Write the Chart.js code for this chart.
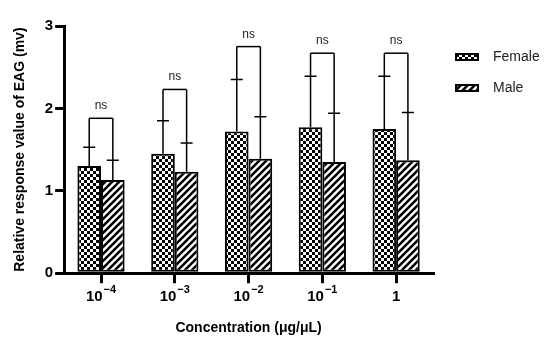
<html>
<head>
<meta charset="utf-8">
<script src="https://cdn.jsdelivr.net/npm/chart.js"></script>
<style>body{margin:0;background:#fff}</style>
</head>
<body>
<canvas id="myChart" width="550" height="348"></canvas>
<script>
// Data
const categories = ['10^-4', '10^-3', '10^-2', '10^-1', '1'];
const tickBase = ['10', '10', '10', '10', '1'];
const tickExp = ['\u22124', '\u22123', '\u22122', '\u22121', ''];
const female = [1.30, 1.45, 1.72, 1.77, 1.75];
const femaleErr = [0.23, 0.40, 0.63, 0.62, 0.64];
const male = [1.13, 1.23, 1.39, 1.35, 1.37];
const maleErr = [0.24, 0.35, 0.51, 0.59, 0.58];
const bracketAt = [1.88, 2.23, 2.75, 2.67, 2.67];
const sigLabels = ['ns', 'ns', 'ns', 'ns', 'ns'];
const yTicks = [0, 1, 2, 3];

const FONT = "'Liberation Sans', Arial, sans-serif";
const canvas = document.getElementById('myChart');
const ctx = canvas.getContext('2d');

// fill patterns
function checker() {
	const c = document.createElement('canvas');
	c.width = c.height = 6;
	const g = c.getContext('2d');
	g.fillStyle = '#fff'; g.fillRect(0, 0, 6, 6);
	g.fillStyle = '#000'; g.fillRect(0, 0, 3, 3); g.fillRect(3, 3, 3, 3);
	return ctx.createPattern(c, 'repeat');
}
function stripes() {
	const s = 7;
	const c = document.createElement('canvas');
	c.width = c.height = s;
	const g = c.getContext('2d');
	g.fillStyle = '#fff'; g.fillRect(0, 0, s, s);
	g.strokeStyle = '#000'; g.lineWidth = 2.6;
	g.beginPath();
	g.moveTo(0, s); g.lineTo(s, 0);
	g.moveTo(-1, 1); g.lineTo(1, -1);
	g.moveTo(s - 1, s + 1); g.lineTo(s + 1, s - 1);
	g.stroke();
	return ctx.createPattern(c, 'repeat');
}

// error bars, brackets, legend and superscript tick labels
const extras = {
	id: 'extras',
	afterDatasetsDraw(chart) {
		const y = chart.scales.y;
		const c = chart.ctx;
		const errs = [femaleErr, maleErr];
		const vals = [female, male];
		c.save();
		c.strokeStyle = '#000';
		c.lineWidth = 1.5;
		for (let j = 0; j < categories.length; j++) {
			const by = y.getPixelForValue(bracketAt[j]);
			const xs = [];
			for (let d = 0; d < 2; d++) {
				const bar = chart.getDatasetMeta(d).data[j];
				const x = bar.x;
				xs.push(x);
				const ey = y.getPixelForValue(vals[d][j] + errs[d][j]);
				c.beginPath();
				c.moveTo(x, bar.y);
				c.lineTo(x, by);
				c.moveTo(x - 6, ey);
				c.lineTo(x + 6, ey);
				c.stroke();
			}
			c.beginPath();
			c.moveTo(xs[0], by);
			c.lineTo(xs[1], by);
			c.stroke();
			c.fillStyle = '#222';
			c.font = '12px ' + FONT;
			c.textAlign = 'center';
			c.textBaseline = 'alphabetic';
			c.fillText(sigLabels[j], (xs[0] + xs[1]) / 2, by - 9);
		}
		c.restore();
	},
	afterDraw(chart) {
		const xs = chart.scales.x;
		const c = chart.ctx;
		const base = chart.chartArea.bottom + 28;
		c.save();
		c.fillStyle = '#000';
		c.textBaseline = 'alphabetic';
		c.textAlign = 'left';
		for (let i = 0; i < categories.length; i++) {
			const x = xs.getPixelForTick(i);
			c.font = 'bold 15px ' + FONT;
			const w1 = c.measureText(tickBase[i]).width;
			c.font = 'bold 11px ' + FONT;
			const w2 = tickExp[i] ? c.measureText(tickExp[i]).width + 1 : 0;
			const x0 = x - (w1 + w2) / 2;
			c.font = 'bold 15px ' + FONT;
			c.fillText(tickBase[i], x0, base);
			if (tickExp[i]) {
				c.font = 'bold 11px ' + FONT;
				c.fillText(tickExp[i], x0 + w1 + 1, base - 8);
			}
		}
		// legend
		const lx = chart.chartArea.right + 22;
		chart.data.datasets.forEach((ds, i) => {
			const cy = 57 + i * 31;
			c.fillStyle = ds.backgroundColor;
			c.fillRect(lx, cy - 4, 24, 8);
			c.strokeStyle = '#000';
			c.lineWidth = 2;
			c.strokeRect(lx + 1, cy - 3, 22, 6);
			c.fillStyle = '#222';
			c.font = '14px ' + FONT;
			c.textBaseline = 'middle';
			c.fillText(ds.label, lx + 38, cy);
		});
		c.restore();
	}
};

const chart = new Chart(ctx, {
	type: 'bar',
	data: {
		labels: categories,
		datasets: [
			{
				label: 'Female',
				data: female,
				backgroundColor: checker(),
				borderColor: '#000',
				borderWidth: 2,
				borderSkipped: false
			},
			{
				label: 'Male',
				data: male,
				backgroundColor: stripes(),
				borderColor: '#000',
				borderWidth: 2,
				borderSkipped: false
			}
		]
	},
	options: {
		responsive: false,
		animation: false,
		devicePixelRatio: 1,
		categoryPercentage: 0.64,
		barPercentage: 1,
		layout: { padding: { top: 26, right: 117, bottom: 11, left: 12 } },
		plugins: {
			tooltip: { enabled: false },
			legend: { display: false }
		},
		scales: {
			x: {
				border: { color: '#000', width: 3 },
				grid: { drawOnChartArea: false, offset: false, tickLength: 10, lineWidth: 3, color: '#000' },
				ticks: { color: 'rgba(0,0,0,0)', font: { family: FONT, size: 15, weight: 'bold' }, padding: 3 },
				title: {
					display: true,
					text: 'Concentration (\u03bcg/\u03bcL)',
					color: '#000',
					font: { family: FONT, size: 14, weight: 'bold' },
					padding: { top: 13, bottom: 0 }
				}
			},
			y: {
				min: 0,
				max: 3,
				border: { color: '#000', width: 3 },
				grid: { drawOnChartArea: false, tickLength: 9, lineWidth: 3, color: '#000' },
				afterBuildTicks: (axis) => { axis.ticks = yTicks.map(v => ({ value: v })); },
				ticks: { color: '#000', font: { family: FONT, size: 15, weight: 'bold' }, padding: 2 },
				title: {
					display: true,
					text: 'Relative response value of EAG (mv)',
					color: '#000',
					font: { family: FONT, size: 14, weight: 'bold' },
					padding: { top: 0, bottom: 14 }
				}
			}
		}
	},
	plugins: [extras]
});
</script>
</body>
</html>
